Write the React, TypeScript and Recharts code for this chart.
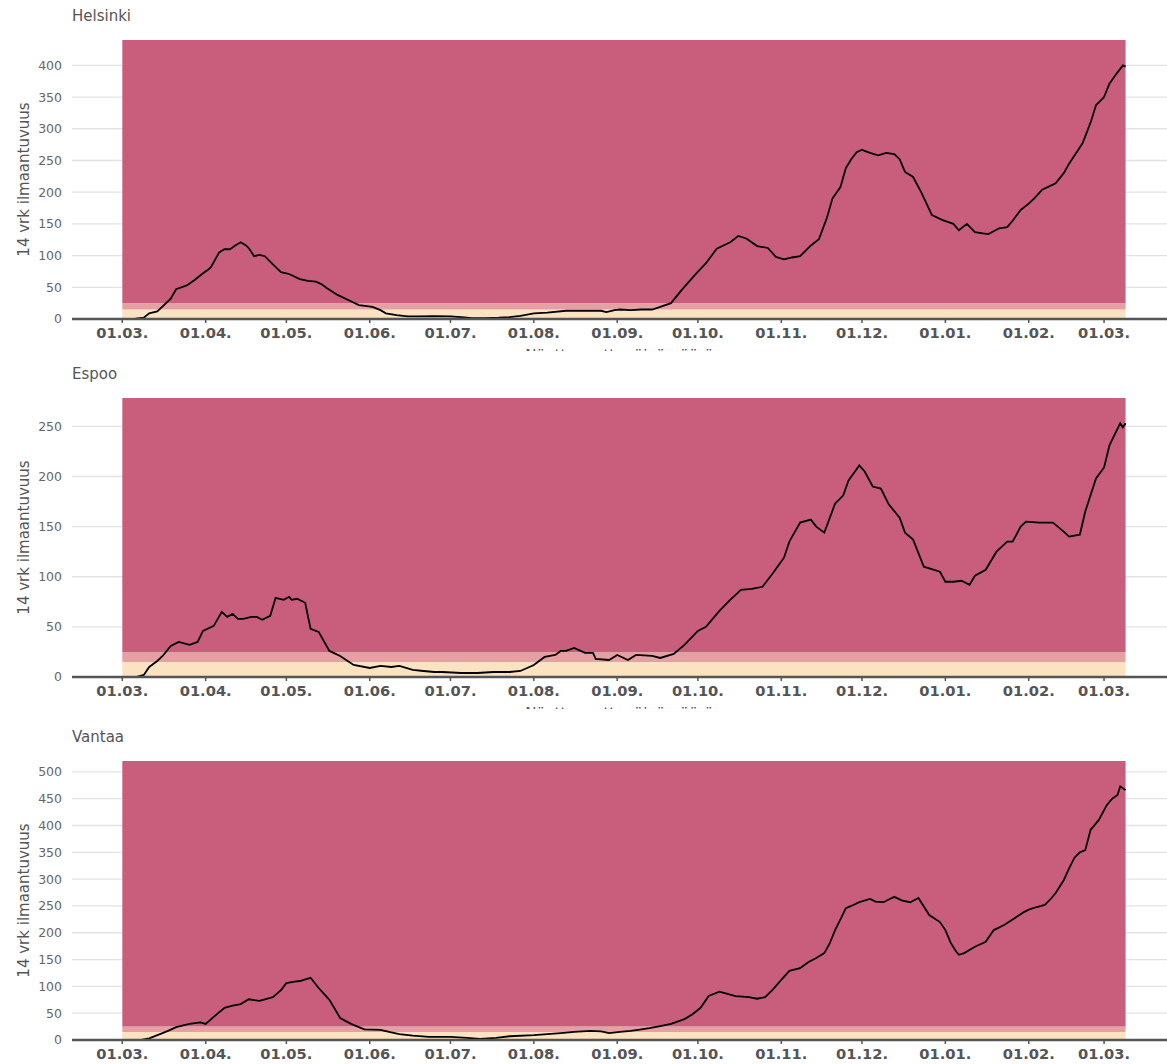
import { LineChart, Line, XAxis, YAxis, CartesianGrid, ReferenceArea } from 'recharts'

// day offsets counted from 01.03.2020, value = 14 vrk ilmaantuvuus
const HELSINKI: [number, number][] = [
    [0, 0], [5, 0.5], [8, 2], [10, 9], [13, 12], [15, 20], [18, 32], [20, 47], [24, 53], [27, 62], [30, 72],
    [32, 78], [33, 82], [36, 105], [38, 110], [40, 110], [42, 116], [44, 121], [46, 116], [47, 112], [49, 99],
    [51, 101], [53, 99], [56, 86], [59, 74], [62, 71], [66, 63], [69, 60], [72, 59], [74, 55], [76, 49], [80, 38],
    [84, 30], [88, 22], [93, 19], [96, 14], [98, 9], [102, 6], [106, 4], [110, 4], [116, 4.5], [122, 4], [126, 3],
    [130, 1.5], [135, 1.5], [140, 2], [144, 3], [148, 5], [153, 9], [158, 10], [165, 13], [170, 13], [175, 13],
    [178, 13], [180, 11], [183, 14], [185, 15], [189, 14], [193, 15], [197, 15], [200, 19], [204, 25], [208, 46],
    [213, 70], [217, 88], [221, 111], [226, 121], [229, 131], [232, 127], [236, 115], [240, 112], [243, 98],
    [246, 94], [249, 97], [252, 99], [256, 116], [259, 126], [262, 160], [264, 190], [267, 208], [269, 238],
    [271, 252], [273, 263], [275, 267], [276, 265], [278, 262], [281, 258], [284, 262], [287, 260], [289, 252],
    [291, 232], [294, 224], [297, 200], [301, 164], [305, 156], [309, 150], [311, 140], [314, 150], [317, 137],
    [320, 135], [322, 134], [326, 143], [329, 145], [331, 155], [334, 172], [337, 182], [339, 190], [342, 204],
    [345, 210], [347, 214], [350, 230], [352, 245], [354, 258], [357, 277], [360, 310], [362, 337], [365, 350],
    [367, 371], [370, 389], [372, 400], [373, 398],
]

const ESPOO: [number, number][] = [
    [0, 0], [5, 0], [8, 2], [10, 10], [13, 16], [15, 21], [18, 31], [21, 35], [25, 32], [28, 35], [30, 46],
    [34, 51], [37, 65], [39, 60], [41, 63], [43, 58], [45, 58], [48, 60], [50, 60], [52, 57], [55, 61], [57, 79],
    [60, 77], [62, 80], [63, 77], [65, 78], [68, 74], [70, 48], [73, 45], [77, 26], [81, 21], [86, 12], [92, 9],
    [96, 11], [100, 10], [103, 11], [108, 7], [112, 6], [116, 5], [119, 5], [126, 4], [132, 4], [138, 5], [144, 5],
    [148, 6], [153, 12], [157, 20], [161, 22], [163, 26], [165, 26], [168, 29], [172, 24], [175, 24], [176, 18],
    [181, 17], [184, 22], [188, 17], [191, 22], [197, 21], [200, 19], [205, 23], [209, 32], [214, 46], [217, 50],
    [222, 66], [226, 77], [230, 87], [234, 88], [238, 90], [242, 104], [246, 119], [248, 135], [252, 154],
    [256, 157], [258, 150], [261, 144], [265, 173], [268, 181], [270, 196], [274, 211], [276, 205], [279, 190],
    [282, 188], [285, 172], [289, 159], [291, 144], [294, 137], [298, 110], [304, 105], [306, 95], [309, 95],
    [312, 96], [315, 92], [317, 101], [321, 107], [325, 125], [329, 135], [331, 135], [334, 150], [336, 155],
    [341, 154], [346, 154], [350, 145], [352, 140], [356, 142], [358, 165], [362, 198], [365, 209], [367, 231],
    [371, 253], [372, 249], [373, 253],
]

const VANTAA: [number, number][] = [
    [0, 0], [7, 0], [10, 3], [14, 11], [17, 17], [20, 24], [25, 30], [29, 33], [31, 30], [34, 43], [38, 60],
    [41, 64], [44, 67], [47, 76], [51, 73], [56, 80], [59, 93], [61, 106], [64, 109], [66, 110], [70, 116],
    [73, 97], [77, 75], [81, 41], [85, 30], [90, 20], [96, 19], [100, 14], [103, 11], [108, 8], [114, 6], [122, 6],
    [128, 4], [133, 2], [139, 4], [144, 7], [153, 9], [158, 11], [163, 13], [168, 15], [174, 17], [178, 16],
    [181, 13], [185, 15], [189, 17], [193, 20], [196, 22], [200, 26], [204, 30], [209, 39], [212, 48], [215, 60],
    [218, 82], [222, 90], [225, 86], [228, 82], [233, 80], [236, 77], [239, 80], [242, 95], [245, 112], [248, 129],
    [252, 134], [255, 145], [258, 153], [261, 162], [263, 180], [265, 205], [267, 225], [269, 246], [271, 250],
    [274, 257], [278, 263], [280, 258], [283, 257], [285, 262], [287, 267], [290, 260], [293, 257], [296, 265],
    [300, 233], [304, 220], [306, 205], [308, 181], [310, 165], [311, 159], [313, 162], [317, 174], [321, 183],
    [324, 205], [328, 215], [332, 228], [335, 238], [337, 243], [340, 248], [343, 252], [345, 262], [347, 274],
    [350, 298], [352, 320], [354, 340], [356, 350], [358, 354], [360, 392], [363, 410], [366, 438], [368, 450],
    [370, 457], [371, 473], [373, 466],
]

const MONTH_DAYS = [0, 31, 61, 92, 122, 153, 184, 214, 245, 275, 306, 337, 365]
const MONTH_LABELS = ['01.03.', '01.04.', '01.05.', '01.06.', '01.07.', '01.08.', '01.09.', '01.10.', '01.11.', '01.12.', '01.01.', '01.02.', '01.03.']

const BANDS = [
    { from: 0, to: 15, color: '#fbe2c1' },
    { from: 15, to: 25, color: '#e4a0a3' },
]
const TOP_COLOR = '#c95e7c'

const PANELS = [
    { name: 'Helsinki', data: HELSINKI, ticks: [0, 50, 100, 150, 200, 250, 300, 350, 400], top: 0, clip: 351 },
    { name: 'Espoo', data: ESPOO, ticks: [0, 50, 100, 150, 200, 250], top: 358, clip: 351 },
    { name: 'Vantaa', data: VANTAA, ticks: [0, 50, 100, 150, 200, 250, 300, 350, 400, 450, 500], top: 721, clip: 343 },
]

function Paneeli({ name, data, ticks }: { name: string; data: [number, number][]; ticks: number[] }) {
    const rows = data.map(([d, v]) => ({ d, v }))
    const lastDay = data[data.length - 1][0]
    const yTop = Math.max(...data.map(p => p[1])) * 1.1

    return (
        <div style={{ position: 'relative', width: 1167, height: 351 }}>
            <div style={{ position: 'absolute', left: 72, top: 6, fontSize: 15, color: '#555', lineHeight: '20px' }}>{name}</div>
            <LineChart width={1167} height={351} data={rows} margin={{ top: 40, right: 0, bottom: 0, left: 0 }}>
                <CartesianGrid vertical={false} syncWithTicks stroke="#e3e3e3" strokeWidth={1.3} />
                {BANDS.map(b => (
                    <ReferenceArea key={b.from} x1={0} x2={lastDay} y1={b.from} y2={b.to} fill={b.color} fillOpacity={1} stroke="none" />
                ))}
                <ReferenceArea x1={0} x2={lastDay} y1={25} y2={yTop} fill={TOP_COLOR} fillOpacity={1} stroke="none" />
                <XAxis
                    type="number"
                    dataKey="d"
                    domain={[-18.7, 388.4]}
                    allowDataOverflow
                    ticks={MONTH_DAYS}
                    interval={0}
                    tickFormatter={(d: number) => MONTH_LABELS[MONTH_DAYS.indexOf(d)]}
                    height={32}
                    tickSize={4}
                    tickMargin={5}
                    axisLine={{ stroke: '#555', strokeWidth: 2.5 }}
                    tickLine={{ stroke: '#555', strokeWidth: 1.5 }}
                    tick={{ fill: '#555', fontSize: 14.7, fontWeight: 'bold' }}
                    label={{
                        content: ({ viewBox }: any) => (
                            <text x={viewBox.x + viewBox.width * 0.5} y={viewBox.y + 42} textAnchor="middle" fontSize={15} fill="#555">
                                Näytteenottopäivämäärä
                            </text>
                        ),
                    }}
                />
                <YAxis
                    type="number"
                    domain={[0, yTop]}
                    allowDataOverflow
                    ticks={ticks}
                    interval={0}
                    width={72}
                    axisLine={false}
                    tickLine={false}
                    tickMargin={4}
                    tick={{ fill: '#666', fontSize: 12.5 }}
                    label={{
                        content: ({ viewBox }: any) => {
                            const cx = 24
                            const cy = viewBox.y + viewBox.height / 2
                            return (
                                <text x={cx} y={cy} transform={`rotate(-90 ${cx} ${cy})`} textAnchor="middle" dominantBaseline="central" fontSize={15} fill="#555">
                                    14 vrk ilmaantuvuus
                                </text>
                            )
                        },
                    }}
                />
                <Line type="linear" dataKey="v" stroke="#000" strokeWidth={1.8} dot={false} isAnimationActive={false} />
            </LineChart>
        </div>
    )
}

export default function App() {
    return (
        <div style={{ position: 'absolute', left: 0, top: 0, width: 1167, height: 1064, background: '#fff', fontFamily: '"DejaVu Sans", sans-serif', overflow: 'hidden' }}>
            {PANELS.map(p => (
                <div key={p.name} style={{ position: 'absolute', left: 0, top: p.top, width: 1167, height: p.clip, overflow: 'hidden' }}>
                    <Paneeli name={p.name} data={p.data} ticks={p.ticks} />
                </div>
            ))}
        </div>
    )
}
